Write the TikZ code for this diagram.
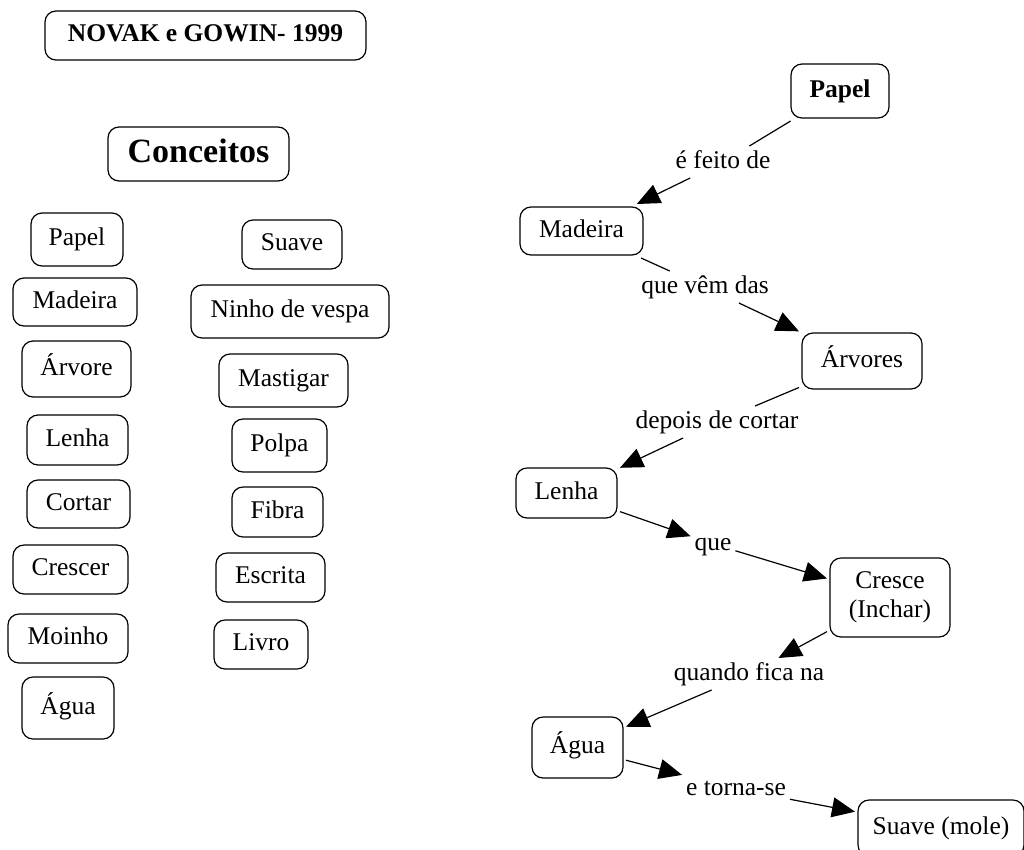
\documentclass[tikz,border=0pt]{standalone}
\usepackage{fontspec}
\setmainfont{Liberation Serif}
\usetikzlibrary{arrows.meta}
\begin{document}
\begin{tikzpicture}[x=1pt,y=-1pt,
  cbase/.style={draw, rounded corners=11pt, line width=1.2pt, inner sep=0pt, outer sep=3pt, align=center, font=\fontsize{25.5}{29}\selectfont},
  cbox/.style={cbase, text height=18pt, text depth=6pt},
  lbl/.style={inner sep=2pt, outer sep=2pt, font=\fontsize{25.5}{29}\selectfont, text height=18pt, text depth=6pt},
  link/.style={line width=1.2pt},
  arr/.style={line width=1.2pt, -{Triangle[length=23pt,width=20pt]}},
  sz/.style 2 args={minimum width=#1pt, minimum height=#2pt},
]
\clip (0,0) rectangle (1024,849);
\fill[white] (0,0) rectangle (1024,849);

% titles
\node[cbox, sz={321}{49}, font=\fontsize{25.5}{29}\selectfont\bfseries] (title) at (205.5,35.5) {NOVAK e GOWIN- 1999};
\node[cbox, sz={181}{54}, font=\fontsize{34}{38}\selectfont\bfseries, text height=23pt, text depth=7pt] (conc) at (198.5,154) {Conceitos};

% left column
\node[cbox, sz={92}{53}]  (cpapel)   at (77,239.5)  {Papel};
\node[cbox, sz={124}{48}] (cmadeira) at (75,302)    {Madeira};
\node[cbox, sz={109}{56}] (carvore)  at (76.5,369)  {Árvore};
\node[cbox, sz={101}{50}] (clenha)   at (77.5,440)  {Lenha};
\node[cbox, sz={103}{48}] (ccortar)  at (78.5,504)  {Cortar};
\node[cbox, sz={115}{49}] (ccrescer) at (70.5,569.5){Crescer};
\node[cbox, sz={120}{49}] (cmoinho)  at (68,638.5)  {Moinho};
\node[cbox, sz={92}{62}]  (cagua)    at (68,708)    {Água};

% right column
\node[cbox, sz={100}{49}] (csuave)   at (292,244.5) {Suave};
\node[cbox, sz={198}{53}] (cninho)   at (290,311.5) {Ninho de vespa};
\node[cbox, sz={129}{53}] (cmastig)  at (283.5,380.5){Mastigar};
\node[cbox, sz={95}{53}]  (cpolpa)   at (279.5,445.5){Polpa};
\node[cbox, sz={91}{50}]  (cfibra)   at (277.5,512) {Fibra};
\node[cbox, sz={109}{49}] (cescrita) at (270.5,577.5){Escrita};
\node[cbox, sz={94}{49}]  (clivro)   at (261,644.5) {Livro};

% concept map
\node[cbox, sz={98}{54}, font=\fontsize{25.5}{29}\selectfont\bfseries] (mpapel) at (840,91) {Papel};
\node[cbox, sz={123}{48}] (mmadeira) at (581.5,231) {Madeira};
\node[cbox, sz={120}{56}] (marvores) at (862,361)   {Árvores};
\node[cbox, sz={101}{50}] (mlenha)   at (566.5,493) {Lenha};
\node[cbase, sz={120}{79}] (mcresce) at (890,597.5) {Cresce\\(Inchar)};
\node[cbox, sz={91}{61}]  (magua)    at (577.5,747.5){Água};
\node[cbox, sz={166}{56}] (msuave)   at (941,828)   {Suave (mole)};

\node[lbl] (l1) at (723,162) {é feito de};
\node[lbl] (l2) at (705,287) {que vêm das};
\node[lbl] (l3) at (717,422) {depois de cortar};
\node[lbl] (l4) at (713,544) {que};
\node[lbl] (l5) at (749,674) {quando fica na};
\node[lbl] (l6) at (736,789) {e torna-se};

\draw[link] (mpapel) -- (l1);
\draw[arr]  (l1) -- (mmadeira);
\draw[link] (mmadeira) -- (l2);
\draw[arr]  (l2) -- (marvores);
\draw[link] (marvores) -- (l3);
\draw[arr]  (l3) -- (mlenha);
\draw[arr]  (mlenha) -- (l4);
\draw[arr]  (l4) -- (mcresce);
\draw[arr]  (mcresce) -- (l5);
\draw[arr]  (l5) -- (magua);
\draw[arr]  (magua) -- (l6);
\draw[arr]  (l6) -- (msuave);
\end{tikzpicture}
\end{document}
